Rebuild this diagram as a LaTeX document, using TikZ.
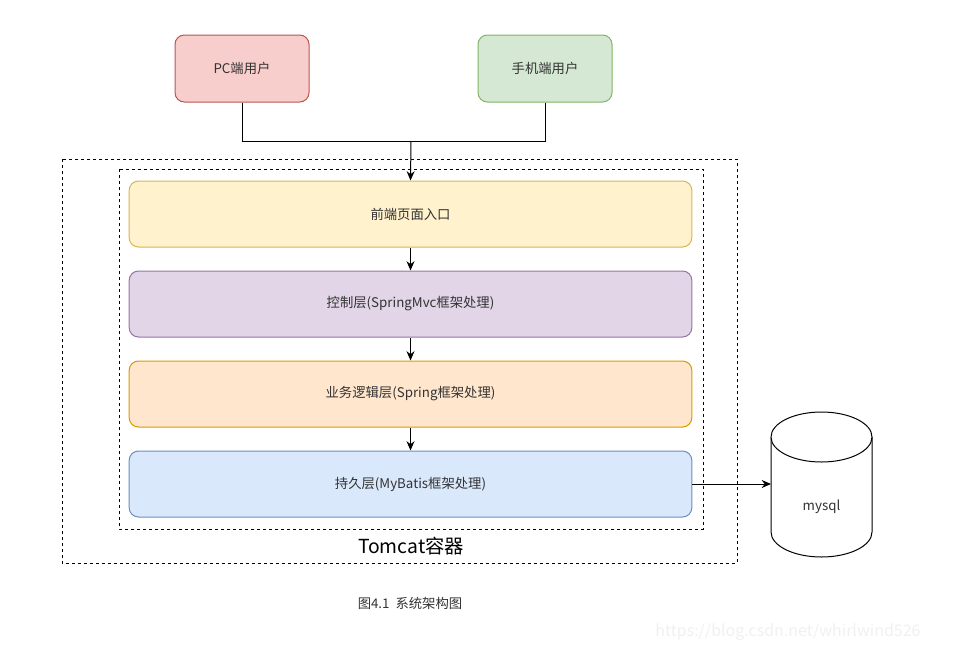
\documentclass[tikz,border=0pt]{standalone}
\usepackage{fontspec}
\setmainfont{Noto Sans CJK SC}
\usetikzlibrary{positioning,arrows.meta}

\definecolor{pcfill}{HTML}{F8CECC}
\definecolor{pcdraw}{HTML}{B85450}
\definecolor{mbfill}{HTML}{D5E8D4}
\definecolor{mbdraw}{HTML}{82B366}
\definecolor{fefill}{HTML}{FFF2CC}
\definecolor{fedraw}{HTML}{D6B656}
\definecolor{ctfill}{HTML}{E1D5E7}
\definecolor{ctdraw}{HTML}{9673A6}
\definecolor{svfill}{HTML}{FFE6CC}
\definecolor{svdraw}{HTML}{D79B00}
\definecolor{dafill}{HTML}{DAE8FC}
\definecolor{dadraw}{HTML}{6C8EBF}
\definecolor{txt}{HTML}{333333}

\begin{document}
\begin{tikzpicture}[
  x=0.75pt, y=-0.75pt,
  font=\fontsize{10}{12}\selectfont,
  box/.style={rectangle, rounded corners=7pt, line width=0.75pt, align=center, text=txt},
  user/.style={box, minimum width=100.5pt, minimum height=50.25pt},
  layer/.style={box, minimum width=422pt, minimum height=49.5pt},
  frame/.style={draw=black, line width=0.6pt, dash pattern=on 2.25pt off 2.25pt},
  flow/.style={-{Stealth[length=7pt,width=6pt]}, line width=0.75pt, draw=black},
  wire/.style={line width=0.75pt, draw=black}
]
\useasboundingbox (0,0) rectangle (956,646);

% containers
\draw[frame] (62,159) rectangle (737,563);
\draw[frame] (119,169) rectangle (703,529);
\node[font=\fontsize{14.5}{16}\selectfont] (tomcat) at (411,546) {Tomcat容器};

% users
\node[user, fill=pcfill, draw=pcdraw] (pc)  at (242,68.5) {PC端用户};
\node[user, fill=mbfill, draw=mbdraw] (mob) at (545,68.5) {手机端用户};
\coordinate (join) at (411,141);

% layers
\node[layer, fill=fefill, draw=fedraw] (front) at (410.5,214) {前端页面入口};
\node[layer, fill=ctfill, draw=ctdraw] (ctrl)  at (410.5,304) {控制层(SpringMvc框架处理)};
\node[layer, fill=svfill, draw=svdraw] (serv)  at (410.5,394) {业务逻辑层(Spring框架处理)};
\node[layer, fill=dafill, draw=dadraw] (dao)   at (410.5,484) {持久层(MyBatis框架处理)};

% database
\draw[line width=0.75pt, fill=white] (771,437) -- (771,532)
  arc[start angle=180, end angle=360, x radius=37.875pt, y radius=18.75pt] -- (872,437);
\draw[line width=0.75pt, fill=white] (821.5,437) ellipse [x radius=37.875pt, y radius=18.75pt];
\node[text=txt] (db) at (821.5,507) {mysql};
\coordinate (dbside) at (771,484);

\draw[wire] (pc.south) |- (join);
\draw[wire] (mob.south) |- (join);
\draw[flow] (join) -- (front.north);
\draw[flow] (front) -- (ctrl);
\draw[flow] (ctrl) -- (serv);
\draw[flow] (serv) -- (dao);
\draw[flow] (dao.east) -- (dbside);

\node[text=txt, font=\fontsize{10}{12}\selectfont] (cap) at (410,603) {图4.1\ \ 系统架构图};
\node[text=gray!12, font=\fontsize{12}{14}\selectfont] (mark) at (788,632) {https://blog.csdn.net/whirlwind526};
\end{tikzpicture}
\end{document}
